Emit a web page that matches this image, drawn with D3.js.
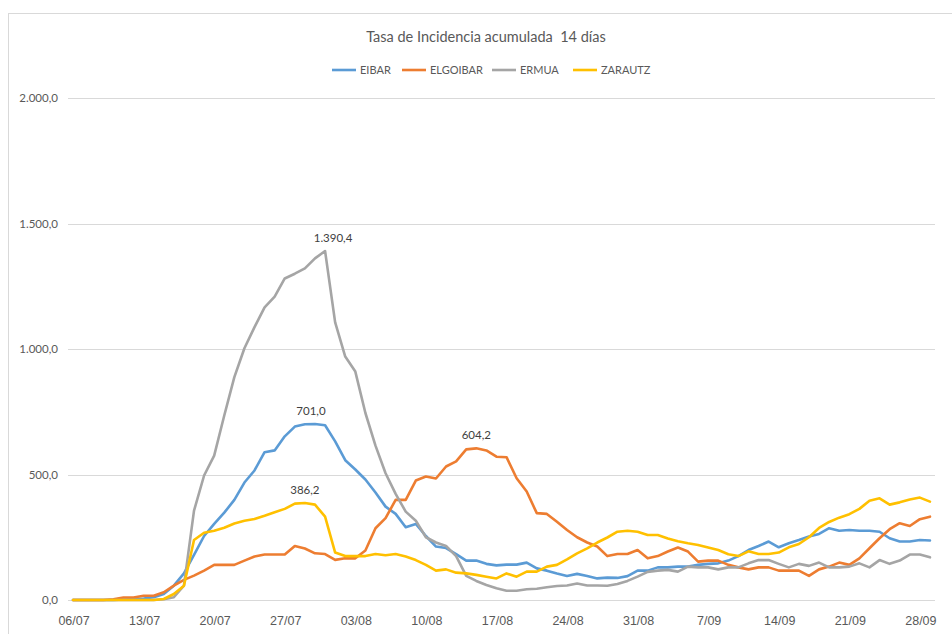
<!DOCTYPE html>
<html>
<head>
<meta charset="utf-8">
<script src="https://d3js.org/d3.v7.min.js"></script>
<style>
  body { margin: 0; background: #fff; }
  svg text { fill: #595959; }
</style>
</head>
<body>
<div id="chart"></div>
<script>
// Tasa de Incidencia acumulada 14 dias, 06/07 -> 29/09 (one value per day)
var titleText = "Tasa de Incidencia acumulada  14 días";
var seriesNames = ["EIBAR", "ELGOIBAR", "ERMUA", "ZARAUTZ"];
var seriesColors = ["#5B9BD5", "#ED7D31", "#A5A5A5", "#FFC000"];

var tickLabels = ["06/07", "13/07", "20/07", "27/07", "03/08", "10/08", "17/08",
  "24/08", "31/08", "7/09", "14/09", "21/09", "28/09"];
var yTicks = [0, 500, 1000, 1500, 2000];

var eibar = [0, 0, 0, 0, 0, 2, 4, 6, 11, 24,
  57, 106, 180, 255, 303, 348, 399, 468, 516, 589,
  596, 652, 691, 700, 701.0, 696, 632, 557, 520, 480,
  428, 372, 343, 290, 303, 255, 213, 207, 183, 157,
  157, 144, 138, 141, 141, 149, 126, 117, 106, 96,
  104, 96, 86, 89, 88, 95, 117, 117, 130, 130,
  133, 133, 140, 144, 146, 157, 175, 199, 215, 233,
  210, 226, 239, 253, 263, 286, 276, 279, 276, 276,
  272, 246, 233, 233, 239, 237];

var elgoibar = [0, 0, 0, 0, 3, 10, 10, 17, 17, 31,
  57, 80, 97, 117, 140, 140, 140, 157, 173, 181,
  181, 181, 215, 205, 186, 183, 160, 166, 166, 197,
  286, 326, 399, 399, 476, 492, 484, 532, 552, 600,
  604.2, 596, 571, 569, 485, 432, 346, 343, 312, 279,
  250, 229, 213, 175, 183, 183, 199, 166, 175, 193,
  209, 193, 153, 157, 157, 140, 130, 122, 130, 130,
  117, 117, 117, 96, 122, 133, 149, 140, 166, 206,
  246, 282, 306, 295, 322, 332];

var ermua = [0, 0, 0, 0, 0, 0, 0, 0, 0, 3,
  11, 57, 356, 496, 575, 735, 888, 1003, 1087, 1166,
  1209, 1281, 1300, 1321, 1361, 1390.4, 1106, 970, 910, 745,
  615, 505, 423, 352, 316, 250, 229, 215, 175, 96,
  76, 60, 47, 37, 37, 43, 45, 51, 56, 58,
  66, 58, 58, 57, 64, 76, 93, 112, 117, 120,
  113, 133, 130, 130, 122, 130, 130, 146, 159, 159,
  144, 130, 144, 136, 149, 130, 130, 133, 146, 130,
  159, 144, 157, 181, 181, 170];

var zarautz = [0, 0, 0, 0, 0, 0, 0, 0, 0, 4,
  24, 57, 239, 268, 276, 288, 305, 316, 323, 336,
  350, 363, 384, 386.2, 380, 332, 189, 175, 175, 175,
  183, 178, 183, 173, 159, 140, 117, 122, 109, 106,
  100, 93, 86, 106, 93, 113, 113, 133, 140, 162,
  186, 206, 229, 249, 272, 276, 272, 259, 259, 245,
  234, 226, 219, 209, 199, 182, 175, 194, 183, 183,
  189, 210, 223, 250, 287, 311, 328, 342, 363, 395,
  405, 380, 389, 400, 408, 392];

// data labels: [series index, day index]
var peakLabels = [[0, 24], [1, 40], [2, 25], [3, 23]];

var allSeries = [eibar, elgoibar, ermua, zarautz];

const W = 952, H = 634;
var days = d3.range(eibar.length);

var locale = d3.formatLocale({decimal: ",", thousands: ".", grouping: [3], currency: ["", "€"]});
var fmt = locale.format(",.1f");

var svg = d3.select("#chart").append("svg")
  .attr("width", W)
  .attr("height", H);

// chart frame
svg.append("rect")
  .attr("x", 8.5).attr("y", 13.5)
  .attr("width", W + 20).attr("height", H + 20)
  .attr("fill", "#fff")
  .attr("stroke", "#d9d9d9");

var xScale = d3.scalePoint()
  .domain(days)
  .range([68, 935])
  .padding(0.5);

var yScale = d3.scaleLinear()
  .domain([0, 2000])
  .range([600, 98]);

// gridlines
svg.append("g")
  .selectAll("line")
  .data(yTicks)
  .enter().append("line")
    .attr("x1", 68).attr("x2", 935)
    .attr("y1", d => Math.round(yScale(d)) + 0.5)
    .attr("y2", d => Math.round(yScale(d)) + 0.5)
    .attr("stroke", "#d9d9d9")
    .attr("stroke-width", 1);

// y labels
svg.append("g")
  .selectAll("text")
  .data(yTicks)
  .enter().append("text")
    .attr("x", 58)
    .attr("y", d => yScale(d) + 4)
    .attr("text-anchor", "end")
    .style("font-family", "Lato, 'Open Sans', sans-serif")
    .style("font-size", "11.5px")
    .text(d => fmt(d));

// x labels, one every 7 days
svg.append("g")
  .selectAll("text")
  .data(tickLabels)
  .enter().append("text")
    .attr("x", (d, i) => xScale(i * 7) + 1)
    .attr("y", 625)
    .attr("text-anchor", "middle")
    .style("font-family", "'Liberation Sans', Arial, sans-serif")
    .style("font-size", "12.5px")
    .text(d => d);

var line = d3.line()
  .x((d, i) => xScale(i))
  .y(d => yScale(d));

svg.append("g")
  .selectAll("path")
  .data(allSeries)
  .enter().append("path")
    .attr("d", d => line(d))
    .attr("fill", "none")
    .attr("stroke", (d, i) => seriesColors[i])
    .attr("stroke-width", 2.6)
    .attr("stroke-linejoin", "round")
    .attr("stroke-linecap", "round");

// peak labels
var labelDx = [-4, 0, 8, 0];
svg.append("g")
  .selectAll("text")
  .data(peakLabels)
  .enter().append("text")
    .attr("x", (d, i) => xScale(d[1]) + labelDx[i])
    .attr("y", d => yScale(allSeries[d[0]][d[1]]) - 9)
    .attr("text-anchor", "middle")
    .style("font-family", "Lato, 'Open Sans', sans-serif")
    .style("font-size", "11.5px")
    .style("fill", "#404040")
    .text(d => fmt(allSeries[d[0]][d[1]]));

// title (keep the double space)
svg.append("text")
  .attr("x", 486)
  .attr("y", 42)
  .attr("text-anchor", "middle")
  .style("white-space", "pre")
  .style("font-family", "Lato, 'Open Sans', sans-serif")
  .style("font-size", "14.5px")
  .text(titleText);

// legend
var legendX = [332, 402, 492, 573];
var legend = svg.append("g")
  .selectAll("g")
  .data(seriesNames)
  .enter().append("g")
    .attr("transform", (d, i) => "translate(" + legendX[i] + ",70)");

legend.append("line")
  .attr("x1", 0).attr("x2", 24)
  .attr("stroke", (d, i) => seriesColors[i])
  .attr("stroke-width", 2.6);

legend.append("text")
  .attr("x", 28)
  .attr("y", 4)
  .style("font-family", "Lato, 'Open Sans', sans-serif")
  .style("font-size", "11px")
  .text(d => d);
</script>
</body>
</html>
